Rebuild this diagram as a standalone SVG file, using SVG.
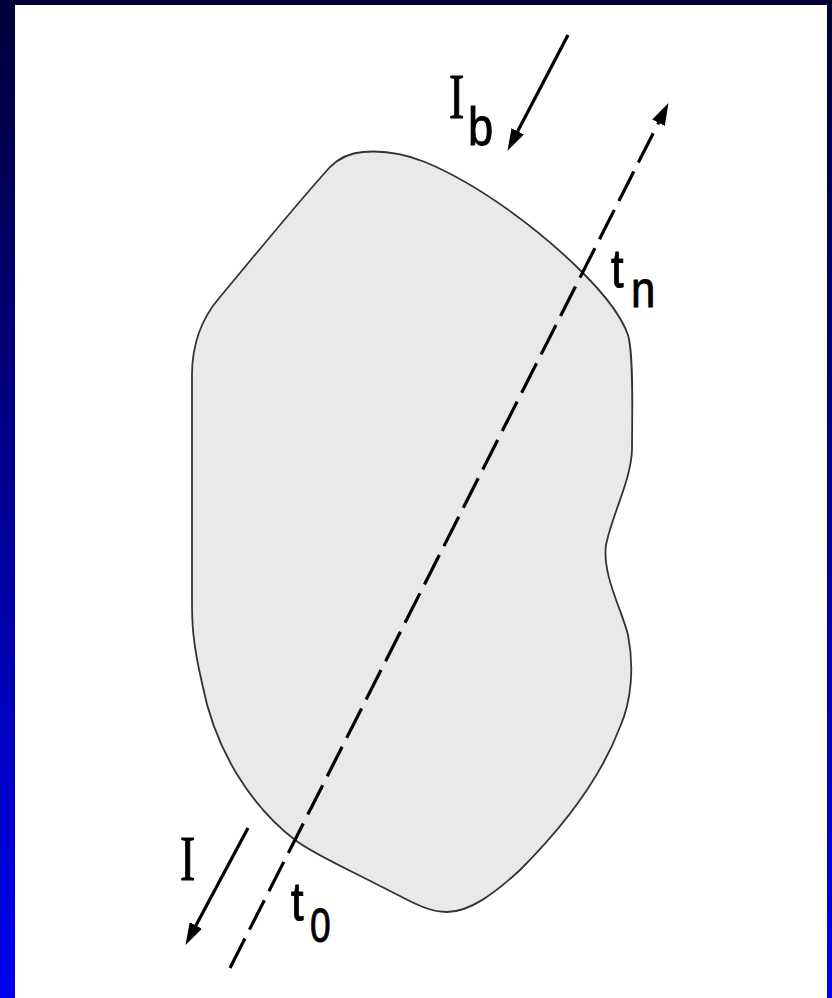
<svg xmlns="http://www.w3.org/2000/svg" width="832" height="998" viewBox="0 0 832 998">
  <defs>
    <linearGradient id="bg" x1="0" y1="0" x2="0" y2="1">
      <stop offset="0" stop-color="#000038"/>
      <stop offset="1" stop-color="#0000F2"/>
    </linearGradient>
    <marker id="head" viewBox="0 0 22 14" markerUnits="userSpaceOnUse" markerWidth="22" markerHeight="14" refX="11" refY="7" orient="auto">
      <path d="M0,0 L22,7 L0,14 Z" fill="#000"/>
    </marker>
    <style>
      .blob { fill: #e9e9e9; stroke: #333; stroke-width: 1.8; }
      .arrow { fill: none; stroke: #000; stroke-width: 3.2; marker-end: url(#head); }
      .dashed { stroke-dasharray: 33 10; }
      .sans { font-family: "Liberation Sans", Arial, sans-serif; fill: #000; stroke: #000; stroke-width: 0.9; }
      .serif { font-family: "Liberation Serif", "Times New Roman", serif; fill: #000; stroke: #000; stroke-width: 1; }
    </style>
  </defs>

  <rect x="0" y="0" width="832" height="998" fill="url(#bg)"/>
  <rect x="15" y="5" width="812" height="993" fill="#ffffff"/>

  <g id="region">
    <path class="blob" d="M 363,152
      C 385,150 405,154 425,162
      C 480,185 540,230 582,272
      C 600,290 620,312 628,335
      C 634,355 632,420 632,450
      C 631,480 612,515 606,545
      C 602,575 622,610 628,635
      C 634,665 632,700 620,727
      C 600,780 560,830 520,870
      C 495,893 470,912 447,912
      C 425,912 405,898 380,886
      C 350,870 315,855 295,840
      C 250,805 215,750 202,683
      C 192,640 192,620 192,600
      L 192,375
      C 192,345 200,320 220,297
      C 255,255 300,200 330,167
      C 340,157 350,153 363,152 Z"/>
  </g>

  <g id="connectors">
    <path id="ray" class="arrow dashed" d="M 230,968 L 663.5,112.9"/>
    <path id="Ib-arrow" class="arrow" d="M 568,35 L 512.6,141.1"/>
    <path id="I-arrow" class="arrow" d="M 248,828 L 190.7,935.2"/>
  </g>

  <g id="label-Ib">
    <text class="serif" font-size="64" transform="translate(449,118) scale(0.72,1)">I</text>
    <text class="sans" font-size="54" transform="translate(468,145) scale(0.84,1)">b</text>
  </g>
  <g id="label-tn">
    <text class="sans" font-size="54" transform="translate(611,287) scale(0.84,1)">t</text>
    <text class="sans" font-size="52" transform="translate(631,307) scale(0.84,1)">n</text>
  </g>
  <g id="label-I">
    <text class="serif" font-size="64" transform="translate(180,880) scale(0.72,1)">I</text>
  </g>
  <g id="label-t0">
    <text class="sans" font-size="54" transform="translate(291,920) scale(0.84,1)">t</text>
    <text class="sans" font-size="49" transform="translate(310,942) scale(0.76,1)">0</text>
  </g>
</svg>
